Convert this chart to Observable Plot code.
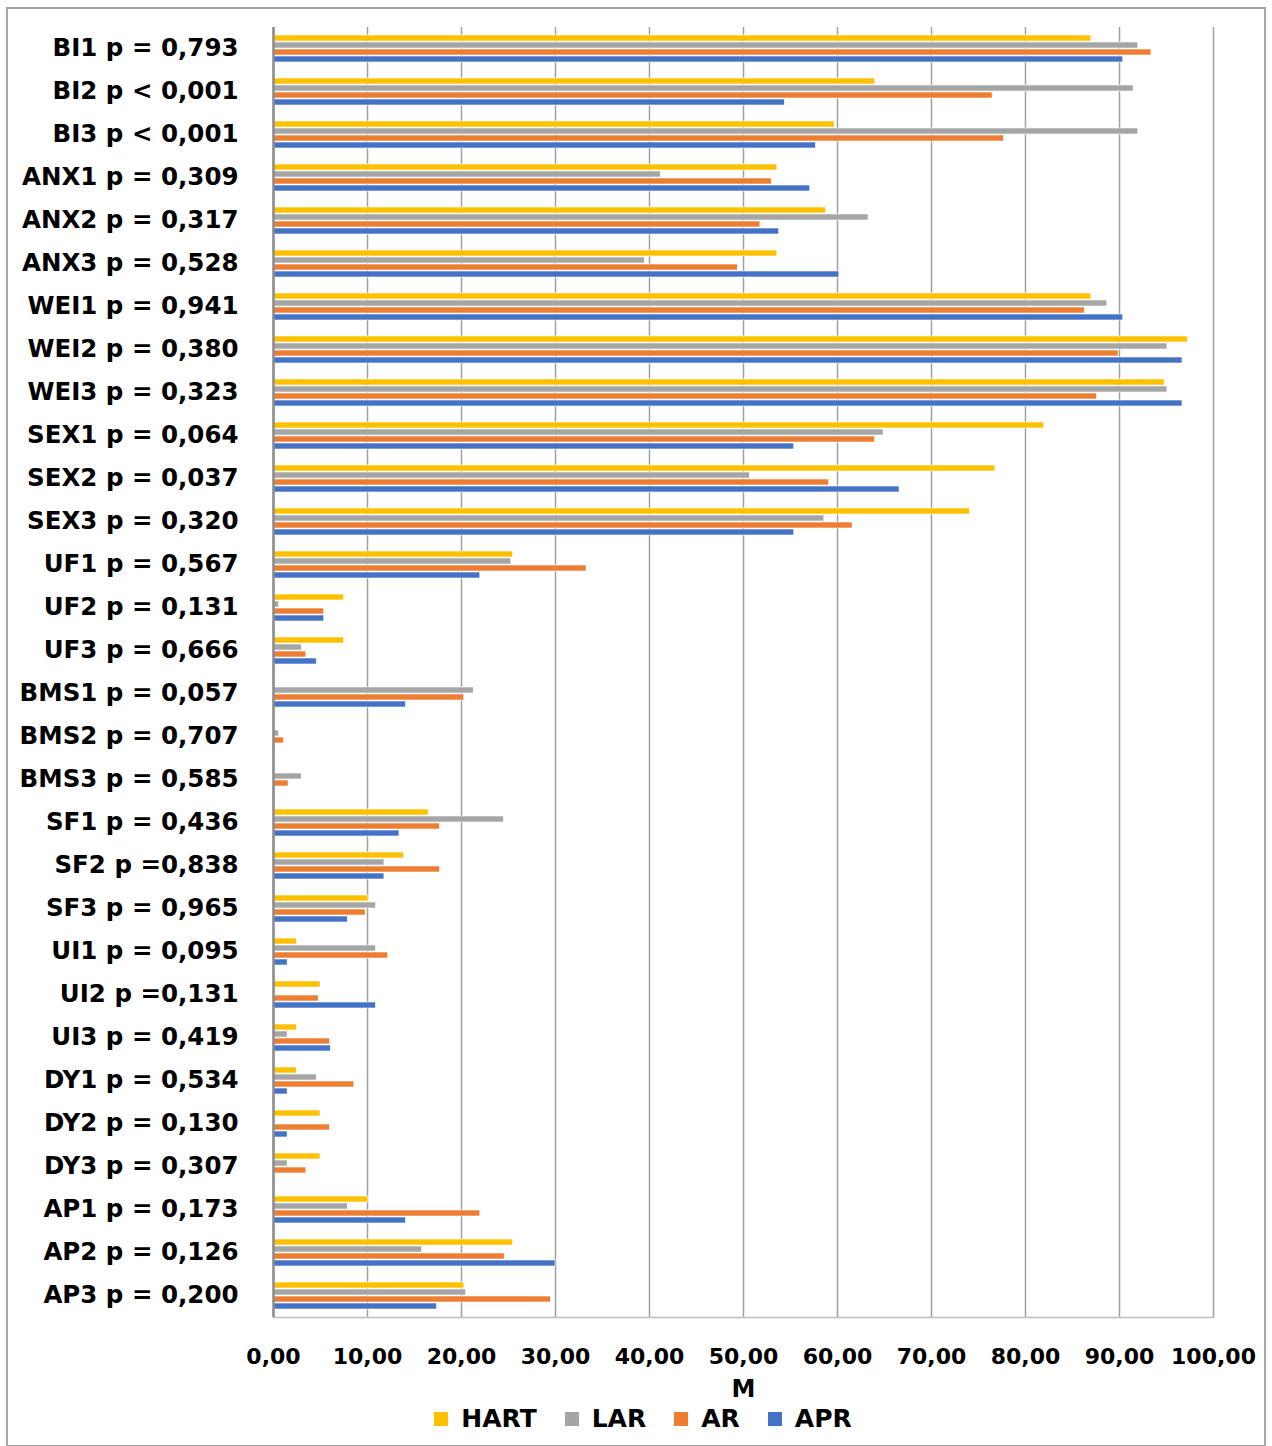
<!DOCTYPE html>
<html>
<head>
<meta charset="utf-8">
<script src="https://cdn.jsdelivr.net/npm/d3@7"></script>
<script src="https://cdn.jsdelivr.net/npm/@observablehq/plot@0.6"></script>
<style>
  html, body { margin: 0; padding: 0; background: #fff; }
  body { width: 1272px; height: 1446px; position: relative; overflow: hidden; font-family: "DejaVu Sans", sans-serif; }
  #border { position: absolute; left: 6px; top: 7px; width: 1260px; height: 1440px; border: 2px solid #a6a6a6; box-sizing: border-box; }
  #chart { position: absolute; left: 0; top: 0; }
  #legend { position: absolute; left: 0; top: 1404px; width: 1272px; display: flex; justify-content: center; padding-left: 14px; box-sizing: border-box;
            font-family: "DejaVu Sans", sans-serif; font-weight: bold; font-size: 25px; color: #000; }
  .item { display: flex; align-items: center; margin: 0 14px; }
  .sw { width: 14px; height: 14px; margin-right: 13px; }
</style>
</head>
<body>
<div id="border"></div>
<div id="chart"></div>
<div id="legend"></div>
<script>
const categories = ["BI1 p = 0,793","BI2 p < 0,001","BI3 p < 0,001","ANX1 p = 0,309","ANX2 p = 0,317","ANX3 p = 0,528",
  "WEI1 p = 0,941","WEI2 p = 0,380","WEI3 p = 0,323","SEX1 p = 0,064","SEX2 p = 0,037","SEX3 p = 0,320",
  "UF1 p = 0,567","UF2 p = 0,131","UF3 p = 0,666","BMS1 p = 0,057","BMS2 p = 0,707","BMS3 p = 0,585",
  "SF1 p = 0,436","SF2 p =0,838","SF3 p = 0,965","UI1 p = 0,095","UI2 p =0,131","UI3 p = 0,419",
  "DY1 p = 0,534","DY2 p = 0,130","DY3 p = 0,307","AP1 p = 0,173","AP2 p = 0,126","AP3 p = 0,200"];
const series = ["HART","LAR","AR","APR"];
const hart = [87.0,64.0,59.7,53.6,58.8,53.6, 87.0,97.3,94.8,82.0,76.8,74.1, 25.5,7.5,7.5,0,0,0, 16.5,13.9,10.1,2.5,5.0,2.5, 2.5,5.0,5.0,10.1,25.5,20.3];
const lar  = [92.0,91.5,92.0,41.2,63.3,39.5, 88.7,95.1,95.1,64.9,50.7,58.6, 25.3,0.6,3.0,21.3,0.6,3.0, 24.5,11.8,10.9,10.9,0,1.5, 4.6,0,1.5,7.9,15.8,20.5];
const ar   = [93.4,76.5,77.7,53.0,51.8,49.4, 86.3,89.9,87.6,64.0,59.1,61.6, 33.3,5.4,3.5,20.3,1.1,1.6, 17.7,17.7,9.8,12.2,4.8,6.0, 8.6,6.0,3.5,22.0,24.6,29.5];
const apr  = [90.4,54.4,57.7,57.1,53.8,60.2, 90.4,96.7,96.7,55.4,66.6,55.4, 22.0,5.4,4.6,14.1,0,0, 13.4,11.8,7.9,1.5,10.9,6.1, 1.5,1.5,0,14.1,30.0,17.4];
const xTicks = [0,10,20,30,40,50,60,70,80,90,100];
const colors = ["#FFC000","#A5A5A5","#ED7D31","#4472C4"];

const valuesBySeries = {HART: hart, LAR: lar, AR: ar, APR: apr};
const rows = [];
categories.forEach((c, i) => series.forEach(s => rows.push({cat: c, series: s, value: valuesBySeries[s][i]})));

const fmt = d => d3.format(".2f")(d).replace(".", ",");
const lastCat = categories[categories.length - 1];

const chart = Plot.plot({
  width: 1272,
  height: 1400,
  marginLeft: 273,
  marginRight: 59,
  marginTop: 26,
  marginBottom: 82,
  style: {fontFamily: "DejaVu Sans, sans-serif", fontWeight: "bold", color: "#000", background: "transparent", overflow: "visible"},
  x: {domain: [0, 100], ticks: xTicks},
  y: {domain: series, axis: null, paddingInner: 0.18, paddingOuter: 1.04},
  fy: {domain: categories, padding: 0, axis: null},
  color: {domain: series, range: colors},
  marks: [
    Plot.gridX(xTicks, {stroke: "#a0a0a0", strokeOpacity: 1, strokeWidth: 1.5}),
    Plot.frame({anchor: "bottom", stroke: "#bfbfbf", strokeWidth: 1.5, fy: () => lastCat}),
    Plot.barX(rows, {x: "value", y: "series", fy: "cat", fill: "series", stroke: "#fff", strokeWidth: 0.6}),
    Plot.ruleX([0], {stroke: "#8c8c8c", strokeWidth: 2.5}),
    Plot.axisFy({anchor: "left", tickSize: 0, tickPadding: 35, fontSize: 24.5, dy: -1, label: null}),
    Plot.axisX({anchor: "bottom", tickSize: 0, tickPadding: 31, fontSize: 22, tickFormat: fmt, label: null}),
    Plot.axisX({anchor: "bottom", ticks: [], tickSize: 0, fontSize: 24,
                label: "M", labelAnchor: "center", labelArrow: "none", labelOffset: 79})
  ]
});
document.getElementById("chart").appendChild(chart);

const legend = d3.select("#legend");
series.forEach((s, i) => {
  const it = legend.append("div").attr("class", "item");
  it.append("div").attr("class", "sw").style("background", colors[i]);
  it.append("span").text(s);
});
</script>
</body>
</html>
